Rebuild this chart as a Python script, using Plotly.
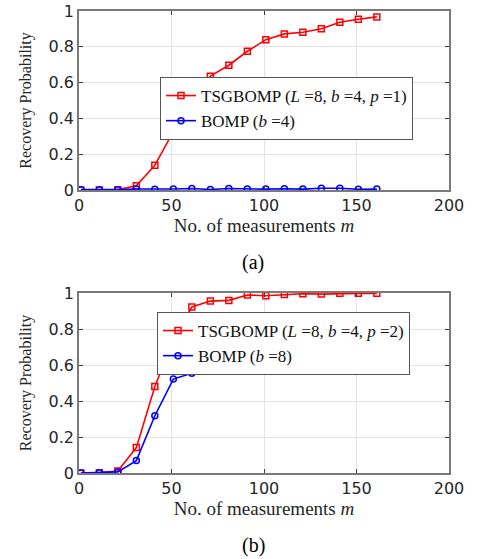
import plotly.graph_objects as go

# ---- data ----
m_vals = [1, 11, 21, 31, 41, 51, 61, 71, 81, 91, 101, 111, 121, 131, 141, 151, 161]

tsg_a = [0.0, 0.0, 0.002, 0.024, 0.138, 0.327, 0.50, 0.636, 0.697, 0.775, 0.840,
         0.872, 0.881, 0.901, 0.937, 0.954, 0.967]
bomp_a = [0.002, 0.001, 0.002, 0.006, 0.004, 0.006, 0.008, 0.003, 0.008, 0.005,
          0.005, 0.007, 0.005, 0.010, 0.010, 0.004, 0.005]

tsg_b = [0.0, 0.002, 0.011, 0.141, 0.481, 0.74, 0.922, 0.955, 0.959, 0.989, 0.985,
         0.991, 0.996, 0.994, 0.998, 0.998, 0.998]
bomp_b = [0.0, 0.002, 0.006, 0.069, 0.318, 0.522, 0.554, 0.593, 0.593, 0.599,
          0.591, 0.567, 0.599, 0.567, 0.584, 0.574, 0.578]

name_tsg_a = "TSGBOMP (<i>L</i> =8, <i>b</i> =4, <i>p</i> =1)"
name_bomp_a = "BOMP (<i>b</i> =4)"
name_tsg_b = "TSGBOMP (<i>L</i> =8, <i>b</i> =4, <i>p</i> =2)"
name_bomp_b = "BOMP (<i>b</i> =8)"

x_ticks = [0, 50, 100, 150, 200]
y_ticks = [0, 0.2, 0.4, 0.6, 0.8, 1]
y_ticklabels = ["0", "0.2", "0.4", "0.6", "0.8", "1"]

W, H = 492, 559
RED = "#ff0000"
BLUE = "#0000ff"
SERIF = "Liberation Serif"

fig = go.Figure()

def add_pair(tsg, bomp, n1, n2, xa, ya, leg):
    fig.add_trace(go.Scatter(x=m_vals, y=tsg, name=n1, mode="lines+markers",
                             line=dict(color=RED, width=1.6),
                             marker=dict(symbol="square-open", size=6, color=RED,
                                         line=dict(width=1.5, color=RED)),
                             xaxis=xa, yaxis=ya, legend=leg))
    fig.add_trace(go.Scatter(x=m_vals, y=bomp, name=n2, mode="lines+markers",
                             line=dict(color=BLUE, width=1.6),
                             marker=dict(symbol="circle-open", size=6, color=BLUE,
                                         line=dict(width=1.5, color=BLUE)),
                             xaxis=xa, yaxis=ya, legend=leg))

add_pair(tsg_a, bomp_a, name_tsg_a, name_bomp_a, "x", "y", "legend")
add_pair(tsg_b, bomp_b, name_tsg_b, name_bomp_b, "x2", "y2", "legend2")

xdom = [79 / W, 449 / W]
ydom_a = [1 - 190 / H, 1 - 11 / H]
ydom_b = [1 - 473 / H, 1 - 293 / H]

tick_font = dict(family="DejaVu Sans", size=16, color="#262626")
title_font_x = dict(family=SERIF, size=19, color="#262626")
title_font_y = dict(family=SERIF, size=16, color="#262626")

axis_common = dict(showline=True, linecolor="#7a7a7a", linewidth=1.5, mirror="ticks",
                   ticks="inside", ticklen=4, tickcolor="#3a3a3a", tickwidth=1,
                   showgrid=True, gridcolor="#e3e3e3", gridwidth=1, zeroline=False,
                   tickfont=tick_font, automargin=False)

xaxis_common = dict(axis_common, range=[0, 200], tickvals=x_ticks,
                    title=dict(text="No. of measurements <i>m</i>", font=title_font_x, standoff=0))
yaxis_common = dict(axis_common, range=[0, 1], tickvals=y_ticks, ticktext=y_ticklabels,
                    title=dict(text="Recovery Probability", font=title_font_y, standoff=13))

legend_common = dict(bgcolor="white", bordercolor="#555555", borderwidth=1,
                     font=dict(family=SERIF, size=17, color="#111111"),
                     xanchor="left", yanchor="top", tracegroupgap=0,
                     itemwidth=30)

fig.update_layout(
    width=W, height=H,
    margin=dict(l=0, r=0, t=0, b=0, pad=0, autoexpand=False),
    paper_bgcolor="white", plot_bgcolor="white",
    showlegend=True,
    xaxis=dict(xaxis_common, domain=xdom, anchor="y"),
    yaxis=dict(yaxis_common, domain=ydom_a, anchor="x"),
    xaxis2=dict(xaxis_common, domain=xdom, anchor="y2"),
    yaxis2=dict(yaxis_common, domain=ydom_b, anchor="x2"),
    legend=dict(legend_common, x=160 / W, y=1 - 77 / H),
    legend2=dict(legend_common, x=157 / W, y=1 - 312 / H),
    annotations=[
        dict(text="(a)", x=253 / W, y=1 - 262 / H, xref="paper", yref="paper",
             showarrow=False, font=dict(family=SERIF, size=20, color="black"),
             xanchor="center", yanchor="middle"),
        dict(text="(b)", x=253 / W, y=1 - 545 / H, xref="paper", yref="paper",
             showarrow=False, font=dict(family=SERIF, size=20, color="black"),
             xanchor="center", yanchor="middle"),
    ],
)

fig.write_html("out.html", config={"displayModeBar": False},
               post_script="document.body.style.margin='0px';document.body.style.overflow='hidden';")
